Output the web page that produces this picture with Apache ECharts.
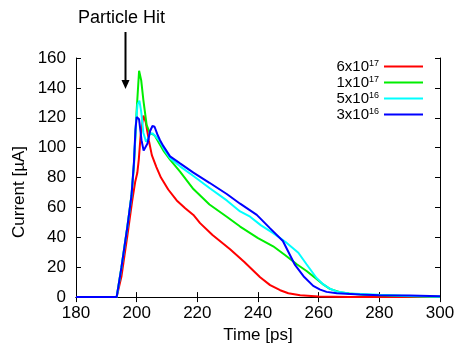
<!DOCTYPE html>
<html>
<head>
<meta charset="utf-8">
<script src="https://cdn.jsdelivr.net/npm/echarts@6/dist/echarts.min.js"></script>
<style>
html,body{margin:0;padding:0;background:#fff;}
#chart{width:459px;height:349px;}
</style>
</head>
<body>
<div id="chart"></div>
<script>
// ---- data ----
const xTicks = [180, 200, 220, 240, 260, 280, 300];
const yTicks = [0, 20, 40, 60, 80, 100, 120, 140, 160];
const legendBase = ['6x10', '1x10', '5x10', '3x10'];
const legendExp = ['17', '17', '16', '16'];
const seriesColors = ['#ff0000', '#00ee00', '#00ffff', '#0000ff'];

const red6e17 = [[180,0],[193.4,0],[195,14],[197,42],[198.5,64],[199.5,77],[200.2,83],[200.7,92],[201.3,108],[202.2,121.5],[203,117],[204,105],[205,95],[206.5,87],[208,80],[210.4,72],[213.2,64.7],[216,59.5],[218.7,55],[220.9,49.5],[225,41.5],[230.8,32],[235.5,23.5],[240.7,13.3],[244,8],[247.3,4.6],[250,2.6],[253.9,1.3],[260,0.4],[270,0.1],[300,0]];
const green1e17 = [[180,0],[193.4,0],[195,20],[197,48],[198.3,68],[199.1,88],[200,125],[200.8,151.5],[201.5,145],[202.2,132],[203.3,115],[204.4,109.5],[205.3,109],[206,108],[207.7,102],[209,97.5],[211,92],[214.3,84],[218.7,72.3],[224,62],[229.7,53.8],[234.1,47.2],[240,39.5],[245,34],[249,28],[252.8,22],[256,17.5],[259.3,12.2],[261.5,8.5],[263.7,5.5],[267,3.3],[270,2.4],[275,1.6],[280,1.2],[290,0.6],[300,0.3]];
const cyan5e16 = [[180,0],[193.4,0],[195,20],[197,48],[198.3,68],[199.1,90],[199.8,118],[200.3,129],[200.9,131.5],[201.5,124],[202.2,110],[203.1,104],[203.8,106],[204.4,109.5],[205.3,109.5],[206,108],[207.7,104],[209,99],[211,93],[214.3,87.5],[218.7,81],[224,73],[229.7,64.7],[234.1,57.3],[237.4,53.8],[241,48],[245,42.8],[249,37],[253.3,29.7],[256,22],[259.3,12.8],[261.5,8.5],[263.7,5.6],[265.9,3.8],[270,2.4],[280,1.5],[290,0.8],[300,0.3]];
const blue3e16 = [[180,0],[193.4,0],[195,20],[197,48],[198.3,68],[199.1,90],[199.6,112],[200,120.5],[200.8,119],[201.6,105],[202.3,98],[202.9,97.5],[203.6,103],[204.4,111],[205.2,114.5],[205.9,114],[206.8,109],[207.7,105],[208.8,101],[211,94.2],[214.3,89.5],[218.7,83.3],[224,76.5],[229.7,69],[234.1,62.5],[239.6,55],[244,46],[248.2,37.5],[252.2,21.5],[255,14],[258.2,7.5],[260.5,5],[262.6,3.5],[266,2.6],[273.6,1.7],[280,1.3],[290,1],[300,0.5]];
const seriesData = [red6e17, green1e17, cyan5e16, blue3e16];

const FONT = '"Liberation Sans", Arial, sans-serif';
const chart = echarts.init(document.getElementById('chart'));

const axisCommon = {
  axisLine: { show: true, lineStyle: { color: '#000', width: 1 } },
  axisTick: { show: true, inside: true, length: 5, lineStyle: { color: '#000', width: 1 } },
  splitLine: { show: false }
};

const option = {
  backgroundColor: '#fff',
  animation: false,
  grid: { left: 76, right: 19, top: 58, bottom: 47 },
  xAxis: [
    Object.assign({
      type: 'value', min: xTicks[0], max: xTicks[xTicks.length - 1], interval: 20,
      name: 'Time [ps]', nameLocation: 'middle', nameGap: 27,
      nameTextStyle: { fontFamily: FONT, fontSize: 17, color: '#000' },
      axisLabel: { fontFamily: FONT, fontSize: 17, color: '#000', margin: 8 }
    }, axisCommon),
    Object.assign({
      type: 'value', position: 'top', min: xTicks[0], max: xTicks[xTicks.length - 1], interval: 20,
      axisLabel: { show: false }
    }, axisCommon)
  ],
  yAxis: [
    Object.assign({
      type: 'value', min: yTicks[0], max: yTicks[yTicks.length - 1], interval: 20,
      axisLabel: { fontFamily: FONT, fontSize: 17, color: '#000', margin: 10 }
    }, axisCommon),
    Object.assign({
      type: 'value', position: 'right', min: yTicks[0], max: yTicks[yTicks.length - 1], interval: 20,
      axisLabel: { show: false }
    }, axisCommon)
  ],
  legend: {
    orient: 'vertical', align: 'right', right: 31, top: 54,
    itemWidth: 39, itemHeight: 10, itemGap: 1,
    icon: 'path://M0,4 L39,4 L39,6 L0,6 Z',
    formatter: function (name) {
      const i = seriesData.findIndex((d, k) => legendBase[k] + '^' + legendExp[k] === name);
      return '{b|' + legendBase[i] + '}{s|' + legendExp[i] + '}';
    },
    textStyle: {
      fontFamily: FONT, color: '#000',
      rich: {
        b: { fontFamily: FONT, fontSize: 15, color: '#000', verticalAlign: 'bottom', lineHeight: 15 },
        s: { fontFamily: FONT, fontSize: 9, color: '#000', verticalAlign: 'top', lineHeight: 8 }
      }
    },
    data: legendBase.map((b, k) => b + '^' + legendExp[k])
  },
  graphic: [
    { type: 'text', left: 78, top: 9, style: { text: 'Particle Hit', font: '18px ' + FONT, fill: '#000' } },
    { type: 'line', shape: { x1: 125.5, y1: 32, x2: 125.5, y2: 82 }, style: { stroke: '#000', lineWidth: 2 } },
    { type: 'polygon', shape: { points: [[121.5, 80], [129.5, 80], [125.5, 89]] }, style: { fill: '#000' } },
    { type: 'text', x: 19, y: 192, rotation: Math.PI / 2, style: { text: 'Current [µA]', font: '17px ' + FONT, fill: '#000', align: 'center', verticalAlign: 'middle' } }
  ],
  series: seriesData.map((d, k) => ({
    name: legendBase[k] + '^' + legendExp[k],
    type: 'line',
    data: d,
    symbol: 'none',
    smooth: false,
    lineStyle: { color: seriesColors[k], width: 2 },
    itemStyle: { color: seriesColors[k] },
    z: 2 + k
  }))
};
chart.setOption(option);
</script>
</body>
</html>
